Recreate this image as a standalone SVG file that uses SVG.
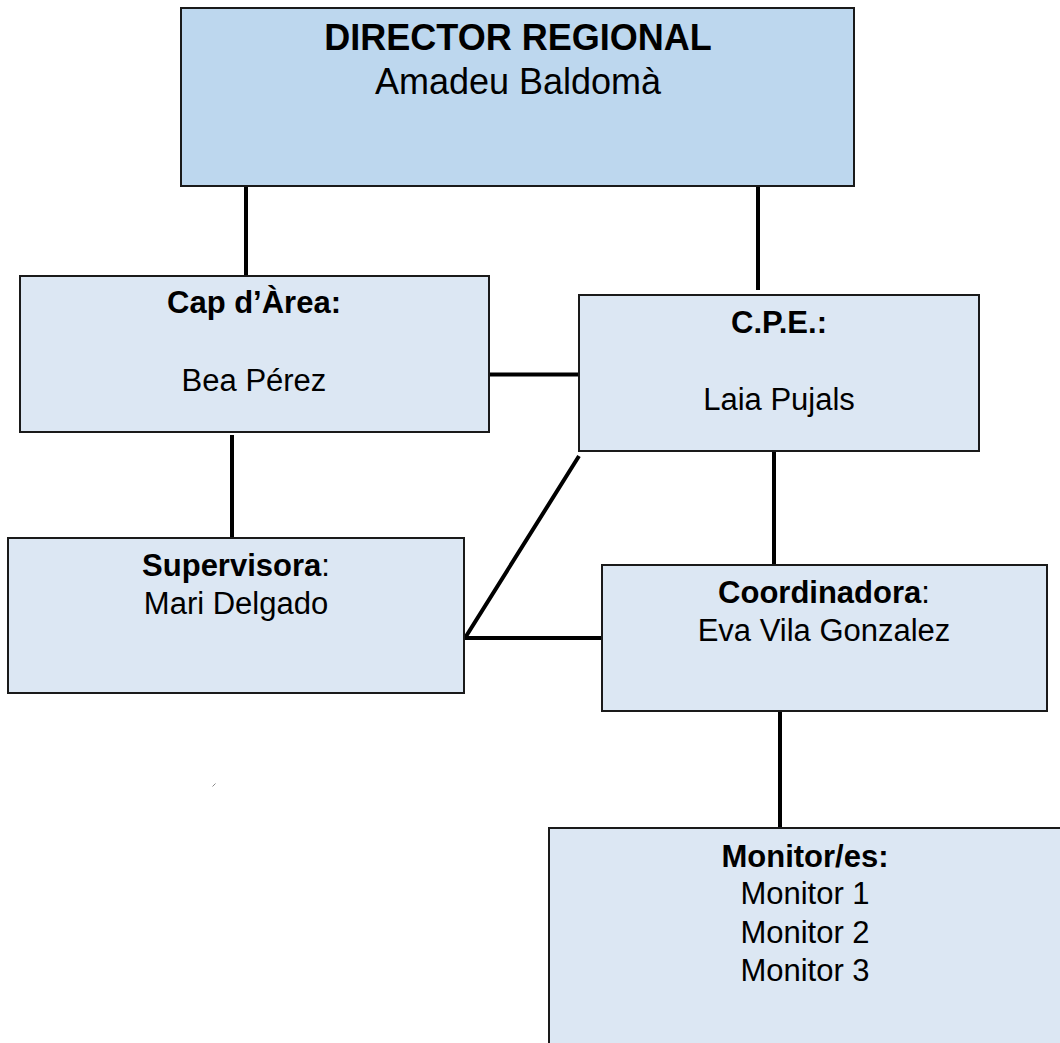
<svg xmlns="http://www.w3.org/2000/svg" width="1060" height="1043" viewBox="0 0 1060 1043">
  <style>
    .box { fill: #dce7f3; stroke: #1a1a1a; stroke-width: 2; }
    .top { fill: #bdd7ee; }
    .t { font-family: "Liberation Sans", Arial, sans-serif; font-size: 31px; fill: #000; text-anchor: middle; }
    .big { font-size: 36px; }
    .b { font-weight: bold; }
    .conn { stroke: #000; stroke-width: 4; fill: none; }
  </style>
  <rect width="1060" height="1043" fill="#ffffff"/>
  <g id="connectors">
    <line class="conn" x1="246" y1="186" x2="246" y2="277"/>
    <line class="conn" x1="758" y1="186" x2="758" y2="290"/>
    <line class="conn" x1="489" y1="374.5" x2="579" y2="374.5"/>
    <line class="conn" x1="232" y1="435" x2="232" y2="538"/>
    <polyline class="conn" points="579,456 465,638 602,638"/>
    <line class="conn" x1="774" y1="447" x2="774" y2="565"/>
    <line class="conn" x1="780" y1="711" x2="780" y2="828"/>
  </g>
  <g id="director">
    <rect class="box top" x="181" y="8" width="673" height="178"/>
    <text class="t big b" x="518" y="50">DIRECTOR REGIONAL</text>
    <text class="t big" x="518" y="94">Amadeu Baldomà</text>
  </g>
  <g id="cap-area">
    <rect class="box" x="20" y="276" width="469" height="156"/>
    <text class="t b" x="254" y="313">Cap d’Àrea:</text>
    <text class="t" x="254" y="391">Bea Pérez</text>
  </g>
  <g id="cpe">
    <rect class="box" x="579" y="295" width="400" height="156"/>
    <text class="t b" x="779" y="333">C.P.E.:</text>
    <text class="t" x="779" y="410">Laia Pujals</text>
  </g>
  <g id="supervisora">
    <rect class="box" x="8" y="538" width="456" height="155"/>
    <text class="t" x="236" y="576"><tspan class="b">Supervisora</tspan>:</text>
    <text class="t" x="236" y="614">Mari Delgado</text>
  </g>
  <g id="coordinadora">
    <rect class="box" x="602" y="565" width="445" height="146"/>
    <text class="t" x="824" y="603"><tspan class="b">Coordinadora</tspan>:</text>
    <text class="t" x="824" y="641">Eva Vila Gonzalez</text>
  </g>
  <g id="monitors">
    <rect class="box" x="549" y="828" width="530" height="240"/>
    <text class="t b" x="805" y="867">Monitor/es:</text>
    <text class="t" x="805" y="904">Monitor 1</text>
    <text class="t" x="805" y="943">Monitor 2</text>
    <text class="t" x="805" y="981">Monitor 3</text>
  </g>
  <line x1="212.5" y1="786.5" x2="215.5" y2="783.5" stroke="#888" stroke-width="1"/>
</svg>
